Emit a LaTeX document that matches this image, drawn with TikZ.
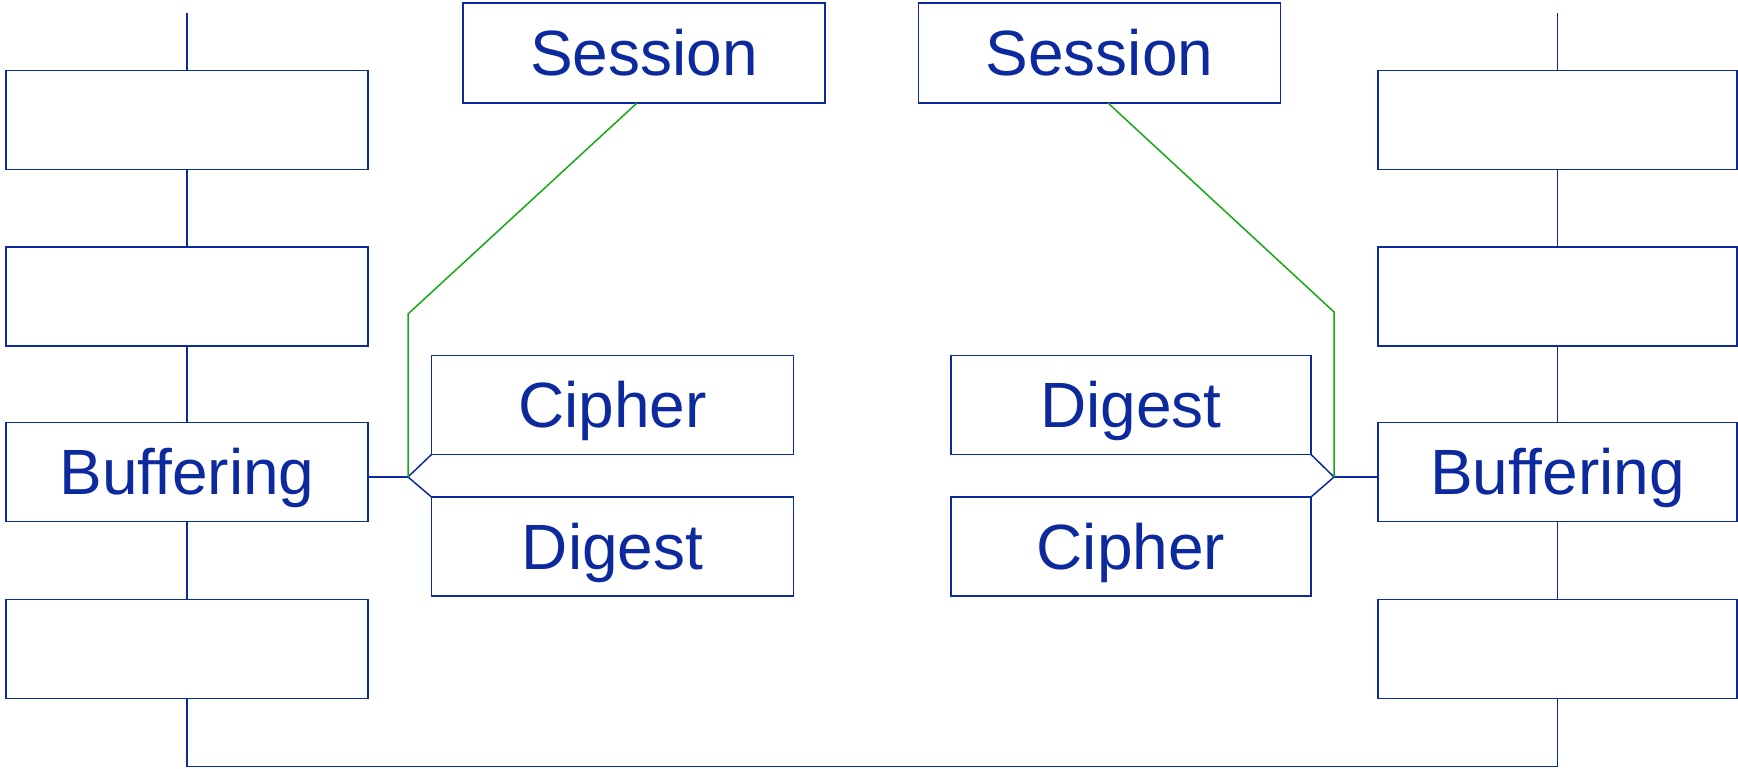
\documentclass[tikz,border=0pt]{standalone}
\usepackage{fontspec}
\setmainfont{Liberation Sans}
\definecolor{layerblue}{RGB}{12,42,158}
\definecolor{linkgreen}{RGB}{20,170,20}
\tikzset{
  layer/.style={draw=layerblue, text=layerblue, line width=0.75pt, inner sep=0pt, outer sep=0pt,
    minimum width=181pt, minimum height=49.5pt, font=\fontsize{32}{32}\selectfont,
    text height=22.9pt, text depth=0pt},
  link/.style={draw=layerblue, line width=0.75pt},
  glink/.style={draw=linkgreen, line width=0.75pt},
}
\begin{document}
\begin{tikzpicture}[x=0.5pt,y=-0.5pt]
		\useasboundingbox (0,0) rectangle (1738,769);
		% left stack
		\node[layer] (la) at (187,120) {};
		\node[layer] (lb) at (187,296.5) {};
		\node[layer] (lbuf) at (187,472) {Buffering};
		\node[layer] (ld) at (187,649) {};
		% right stack
		\node[layer, minimum width=179.5pt] (ra) at (1557.5,120) {};
		\node[layer, minimum width=179.5pt] (rb) at (1557.5,296.5) {};
		\node[layer, minimum width=179.5pt] (rbuf) at (1557.5,472) {Buffering};
		\node[layer, minimum width=179.5pt] (rd) at (1557.5,649) {};
		% sessions
		\node[layer, minimum height=50pt] (lses) at (644,53) {Session};
		\node[layer, minimum height=50pt] (rses) at (1099.5,53) {Session};
		% cipher and digest
		\node[layer] (lcip) at (612.5,405) {Cipher};
		\node[layer] (ldig) at (612.5,546.5) {Digest};
		\node[layer, minimum width=180pt] (rdig) at (1131,405) {Digest};
		\node[layer, minimum width=180pt] (rcip) at (1131,546.5) {Cipher};
		% junctions
		\coordinate (ltop) at (187,13);
		\coordinate (rtop) at (1557.5,13);
		\coordinate (lj) at (408,477);
		\coordinate (lbend) at (408,314);
		\coordinate (rj) at (1334,477);
		\coordinate (rbend) at (1334,312);
		% stack links
		\draw[link] (ltop) -- (la) -- (lb) -- (lbuf) -- (ld);
		\draw[link] (rtop) -- (ra) -- (rb) -- (rbuf) -- (rd);
		\draw[link] (ld.south) -- ++(0,68) -| (rd.south);
		% switches
		\draw[link] (lbuf.east |- lj) -- (lj);
		\draw[link] (lcip.south west) -- (lj) -- (ldig.north west);
		\draw[link] (rbuf.west |- rj) -- (rj);
		\draw[link] (rdig.south east) -- (rj) -- (rcip.north east);
		% session links
		\draw[glink] (lj) -- (lbend) -- ([xshift=-3.5pt]lses.south);
		\draw[glink] (rj) -- (rbend) -- ([xshift=4.25pt]rses.south);
\end{tikzpicture}
\end{document}
